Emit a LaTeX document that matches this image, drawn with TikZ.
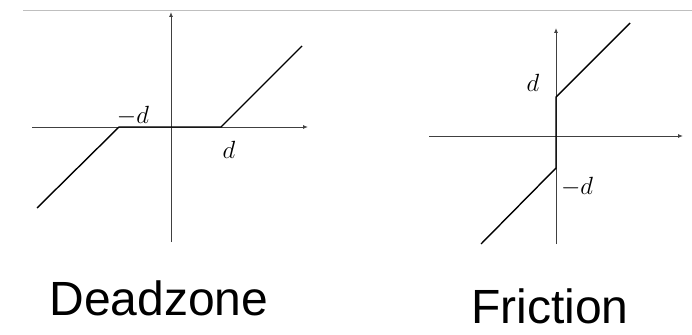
\documentclass[tikz,border=0pt]{standalone}
\usepackage{fontspec}
\setsansfont{Liberation Sans}
\usepackage{amsmath}
\usetikzlibrary{arrows.meta}

\begin{document}
\begin{tikzpicture}[
  x=1pt, y=-1pt,
  axis/.style={draw=black!75, line width=0.9pt, -{Latex[length=5pt,width=4pt]}},
  curve/.style={draw=black, line width=1.4pt, line join=miter},
  rule/.style={draw=black!25, line width=0.9pt},
  mlbl/.style={font=\fontsize{24}{26}\selectfont, inner sep=0pt, anchor=base},
  title/.style={font=\sffamily\fontsize{48}{50}\selectfont, inner sep=0pt, anchor=base},
]
\useasboundingbox (0,0) rectangle (692,334);

\draw[rule] (23,10) -- (692,10);

% deadzone
\coordinate (dzleft)  at (32,127);
\coordinate (dzright) at (308,127);
\coordinate (dzbot)   at (171,242);
\coordinate (dztop)   at (171,12);
\draw[axis] (dzleft) -- (dzright);
\draw[axis] (dzbot) -- (dztop);
\coordinate (dza) at (37,208);
\coordinate (dzb) at (119,127);
\coordinate (dzc) at (221,127);
\coordinate (dzd) at (302,46);
\draw[curve] (dza) -- (dzb) -- (dzc) -- (dzd);
\node[mlbl] (dzneg) at (133,123) {$-d$};
\node[mlbl] (dzpos) at (229,158) {$d$};
\node[title] (dzname) at (159,315) {Deadzone};

% friction
\coordinate (frleft)  at (429,136);
\coordinate (frright) at (683,136);
\coordinate (frbot)   at (556,244);
\coordinate (frtop)   at (556,28);
\draw[axis] (frleft) -- (frright);
\draw[axis] (frbot) -- (frtop);
\coordinate (fra) at (481,244);
\coordinate (frb) at (556,168);
\coordinate (frc) at (556,97);
\coordinate (frd) at (630,23);
\draw[curve] (fra) -- (frb) -- (frc) -- (frd);
\node[mlbl] (frpos) at (533,92) {$d$};
\node[mlbl] (frneg) at (577,194) {$-d$};
\node[title] (frname) at (550,323) {Friction};
\end{tikzpicture}
\end{document}
